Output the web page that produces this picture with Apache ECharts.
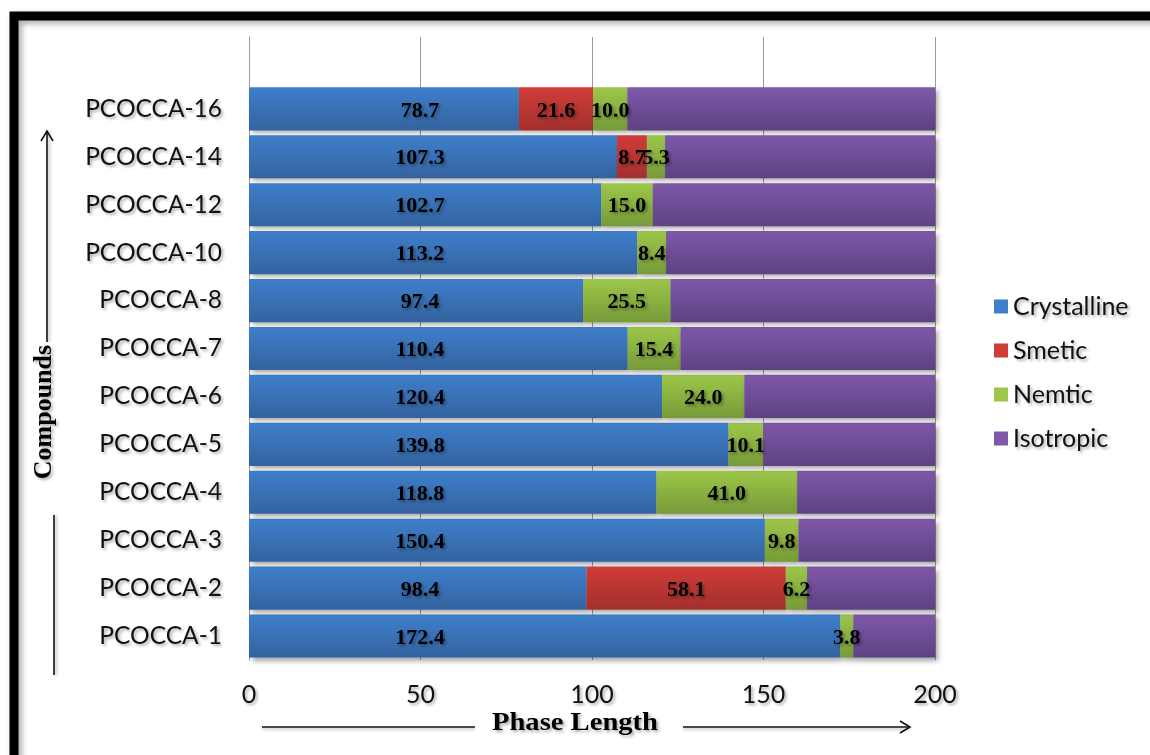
<!DOCTYPE html>
<html>
<head>
<meta charset="utf-8">
<title>Phase Length of PCOCCA Compounds</title>
<script src="https://cdn.jsdelivr.net/npm/echarts@6/dist/echarts.min.js"></script>
<style>
  html, body { margin: 0; padding: 0; background: #fff; }
  #chart { width: 1150px; height: 755px; }
</style>
</head>
<body>
<div id="chart"></div>
<script>
// Compounds, bottom to top
const compounds = ['PCOCCA-1', 'PCOCCA-2', 'PCOCCA-3', 'PCOCCA-4', 'PCOCCA-5', 'PCOCCA-6',
                   'PCOCCA-7', 'PCOCCA-8', 'PCOCCA-10', 'PCOCCA-12', 'PCOCCA-14', 'PCOCCA-16'];

// Phase lengths for each compound
const crystalline = [172.4, 98.4, 150.4, 118.8, 139.8, 120.4, 110.4, 97.4, 113.2, 102.7, 107.3, 78.7];
const smetic      = [0, 58.1, 0, 0, 0, 0, 0, 0, 0, 0, 8.7, 21.6];
const nemtic      = [3.8, 6.2, 9.8, 41.0, 10.1, 24.0, 15.4, 25.5, 8.4, 15.0, 5.3, 10.0];
const isotropic   = [23.8, 37.3, 39.8, 40.2, 50.1, 55.6, 74.2, 77.1, 78.4, 82.3, 78.7, 89.7];

const seriesNames = ['Crystalline', 'Smetic', 'Nemtic', 'Isotropic'];
const xTicks = [0, 50, 100, 150, 200];

const chart = echarts.init(document.getElementById('chart'), null, { renderer: 'canvas' });

const palette = {
  Crystalline: ['#3f7fcc', '#33639f'],
  Smetic:      ['#cf3d38', '#a32f2d'],
  Nemtic:      ['#9dc74a', '#779a38'],
  Isotropic:   ['#7e58a9', '#5e4183']
};

function grad(name) {
  return new echarts.graphic.LinearGradient(0, 0, 0, 1, [
    { offset: 0, color: palette[name][0] },
    { offset: 1, color: palette[name][1] }
  ]);
}

// an empty band above the last compound keeps the headroom of the plot
const yCats = compounds.concat(['']);
const pad = arr => arr.map(v => (v === 0 ? '-' : v)).concat(['-']);

const softShadow = {
  textShadowColor: 'rgba(0,0,0,0.32)',
  textShadowBlur: 3,
  textShadowOffsetX: 2,
  textShadowOffsetY: 2
};

const labelFont = Object.assign({
  color: '#000',
  fontFamily: 'Liberation Serif',
  fontWeight: 'bold',
  fontSize: 22
}, softShadow);

const barShadow = {
  shadowColor: 'rgba(0,0,0,0.35)',
  shadowBlur: 5,
  shadowOffsetX: 3,
  shadowOffsetY: 3
};

const valueSets = [crystalline, smetic, nemtic, isotropic];

const series = seriesNames.map((name, i) => {
  const s = {
    name: name,
    type: 'bar',
    stack: 'phase',
    barCategoryGap: '10%',
    data: pad(valueSets[i]),
    itemStyle: Object.assign({ color: grad(name) }, barShadow),
    emphasis: { disabled: true },
    label: { show: false }
  };
  if (name === 'Crystalline') {
    s.label = Object.assign({
      show: true,
      position: [171, '50%'],
      offset: [0, 2],
      align: 'center',
      verticalAlign: 'middle',
      formatter: p => Number(p.value).toFixed(1)
    }, labelFont);
  } else if (name !== 'Isotropic') {
    s.label = Object.assign({
      show: true,
      position: 'inside',
      offset: [0, 2],
      formatter: p => Number(p.value).toFixed(1)
    }, labelFont);
  }
  return s;
});

const option = {
  backgroundColor: '#fff',
  animation: false,
  grid: { left: 249, right: 215, top: 37, bottom: 95, containLabel: false },
  legend: {
    orient: 'vertical',
    left: 989,
    top: 289,
    itemWidth: 14,
    itemHeight: 14,
    itemGap: 19,
    icon: 'rect',
    data: seriesNames.map(n => ({ name: n, itemStyle: { color: palette[n][0], shadowBlur: 0, shadowOffsetX: 0, shadowOffsetY: 0 } })),
    textStyle: Object.assign({
      fontFamily: 'Lato',
      fontSize: 25,
      color: '#111',
      padding: [0, 0, 0, 0]
    }, softShadow)
  },
  xAxis: {
    type: 'value',
    min: xTicks[0],
    max: xTicks[xTicks.length - 1],
    interval: xTicks[1] - xTicks[0],
    axisLine: { show: false },
    axisTick: { show: false },
    splitLine: { show: true, lineStyle: { color: '#9a9a9a', width: 1 } },
    axisLabel: Object.assign({
      margin: 22,
      fontFamily: 'Lato',
      fontSize: 25,
      color: '#111'
    }, softShadow)
  },
  yAxis: {
    type: 'category',
    data: yCats,
    axisLine: { show: true, lineStyle: { color: '#9a9a9a', width: 1 } },
    axisTick: { show: false },
    splitLine: { show: false },
    axisLabel: Object.assign({
      margin: 27,
      fontFamily: 'Lato',
      fontSize: 24.5,
      color: '#111'
    }, softShadow)
  },
  series: series,
  graphic: [
    // outer frame
    {
      type: 'rect',
      z: 100,
      shape: { x: 14, y: 16, width: 1300, height: 1000 },
      style: { fill: null, stroke: '#000', lineWidth: 9, shadowColor: 'rgba(0,0,0,0.35)', shadowBlur: 6, shadowOffsetX: 3, shadowOffsetY: 3 }
    },
    // x axis title with arrow
    {
      type: 'text',
      z: 100,
      x: 575,
      y: 723,
      scaleX: 1.1,
      style: Object.assign({
        text: 'Phase Length',
        align: 'center',
        verticalAlign: 'middle',
        fontFamily: 'Liberation Serif',
        fontWeight: 'bold',
        fontSize: 26,
        fill: '#000'
      }, softShadow)
    },
    {
      type: 'polyline', z: 100,
      shape: { points: [[262, 727], [475, 727]] },
      style: { stroke: '#111', lineWidth: 1.6, shadowColor: 'rgba(0,0,0,0.3)', shadowBlur: 3, shadowOffsetY: 2 }
    },
    {
      type: 'polyline', z: 100,
      shape: { points: [[683, 727], [910, 727]] },
      style: { stroke: '#111', lineWidth: 1.6, shadowColor: 'rgba(0,0,0,0.3)', shadowBlur: 3, shadowOffsetY: 2 }
    },
    {
      type: 'polyline', z: 100,
      shape: { points: [[900, 721], [910, 727], [900, 733]] },
      style: { stroke: '#111', lineWidth: 1.6, fill: null }
    },
    // y axis title with arrow
    {
      type: 'text',
      z: 100,
      x: 44,
      y: 412,
      rotation: Math.PI / 2,
      style: Object.assign({
        text: 'Compounds',
        align: 'center',
        verticalAlign: 'middle',
        fontFamily: 'Liberation Serif',
        fontWeight: 'bold',
        fontSize: 26,
        fill: '#000'
      }, softShadow)
    },
    {
      type: 'polyline', z: 100,
      shape: { points: [[47, 342], [47, 131]] },
      style: { stroke: '#111', lineWidth: 1.6, shadowColor: 'rgba(0,0,0,0.3)', shadowBlur: 3, shadowOffsetX: 2 }
    },
    {
      type: 'polyline', z: 100,
      shape: { points: [[41, 141], [47, 131], [53, 141]] },
      style: { stroke: '#111', lineWidth: 1.6, fill: null }
    },
    {
      type: 'polyline', z: 100,
      shape: { points: [[54, 515], [54, 675]] },
      style: { stroke: '#111', lineWidth: 1.6, shadowColor: 'rgba(0,0,0,0.3)', shadowBlur: 3, shadowOffsetX: 2 }
    }
  ]
};

chart.setOption(option);
</script>
</body>
</html>
